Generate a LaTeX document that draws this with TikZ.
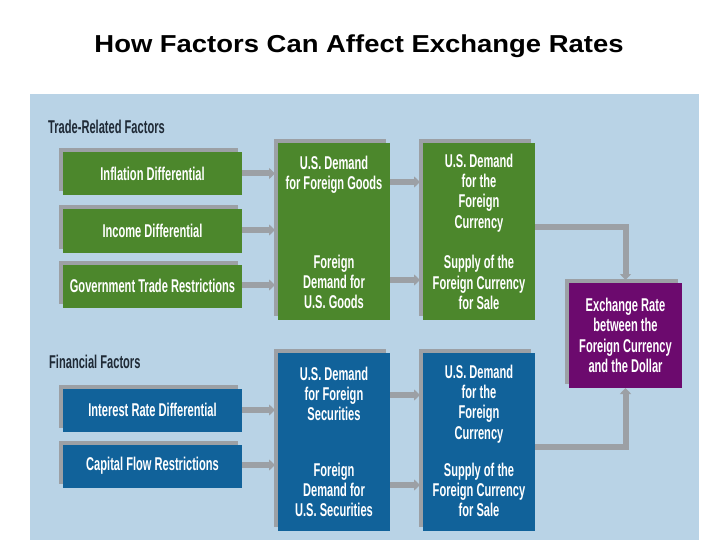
\documentclass[tikz,border=0pt]{standalone}
\usepackage{fontspec}
\setmainfont{Liberation Sans}
\newfontfamily\cond[FakeStretch=0.6]{Liberation Sans}
\newfontfamily\titlefont[FakeStretch=1.12]{Liberation Sans}
\usetikzlibrary{arrows.meta,shadows,calc}
\definecolor{bgblue}{HTML}{B9D3E6}
\definecolor{boxgreen}{HTML}{4C872C}
\definecolor{boxblue}{HTML}{11629A}
\definecolor{boxpurple}{HTML}{6C0A6E}
\definecolor{shadowgray}{HTML}{9CA0A5}
\definecolor{labeldark}{HTML}{1F2A36}
\tikzset{
  boxbase/.style={inner sep=0pt, outer sep=0pt, draw=none,
    general shadow={fill=shadowgray, shadow xshift=-4pt, shadow yshift=4pt}},
  factorbox/.style={boxbase, minimum width=179pt, minimum height=43pt},
  tallbox/.style={boxbase, minimum width=112pt, minimum height=177pt},
  txt/.style={text=white, align=center, inner sep=0pt,
    font=\cond\bfseries\fontsize{18.5}{20.3}\selectfont},
  grouplabel/.style={text=labeldark, anchor=west, inner sep=0pt,
    font=\cond\bfseries\fontsize{18.5}{20.3}\selectfont},
  arr/.style={draw=shadowgray, line width=6pt, line join=miter,
    -{Triangle[length=6pt,width=11pt]}, shorten >=3pt},
}
\begin{document}
\begin{tikzpicture}[x=1pt,y=-1pt]
\useasboundingbox (0,0) rectangle (720,540);
\fill[white] (0,0) rectangle (720,540);
\node (title) at (359,46) {\titlefont\bfseries\fontsize{24.5}{28}\selectfont How Factors Can Affect Exchange Rates};
\fill[bgblue] (30,94) rectangle (699,540);

% group labels
\node[grouplabel] (tradelbl) at (48,127) {Trade-Related Factors};
\node[grouplabel] (finlbl) at (49,362) {Financial Factors};

% trade factor boxes
\node[factorbox, fill=boxgreen] (infl) at (152.5,173.5) {};
\node[txt] at (infl) {Inflation Differential};
\node[factorbox, fill=boxgreen] (inc) at (152.5,231) {};
\node[txt] at (inc) {Income Differential};
\node[factorbox, fill=boxgreen] (gov) at (152.5,286) {};
\node[txt] at (gov) {Government Trade Restrictions};

% green tall boxes
\node[tallbox, fill=boxgreen] (g1) at (334,231.5) {};
\node[txt] (g1a) at (334,174.5) {U.S. Demand\\for Foreign Goods};
\node[txt] (g1b) at (334,282) {Foreign\\Demand for\\U.S. Goods};
\node[tallbox, fill=boxgreen] (g2) at (479,231.5) {};
\node[txt] (g2a) at (479,193) {U.S. Demand\\for the\\Foreign\\Currency};
\node[txt] (g2b) at (479,282.5) {Supply of the\\Foreign Currency\\for Sale};

% financial factor boxes
\node[factorbox, fill=boxblue] (intr) at (152.5,410) {};
\node[txt] at (intr) {Interest Rate Differential};
\node[factorbox, fill=boxblue] (capf) at (152.5,466) {};
\node[txt] at (capf) {Capital Flow Restrictions};

% blue tall boxes
\node[tallbox, fill=boxblue, minimum height=178pt] (b1) at (334,442) {};
\node[txt] (b1a) at (334,394) {U.S. Demand\\for Foreign\\Securities};
\node[txt] (b1b) at (334,490) {Foreign\\Demand for\\U.S. Securities};
\node[tallbox, fill=boxblue, minimum height=178pt] (b2) at (479,442) {};
\node[txt] (b2a) at (479,404) {U.S. Demand\\for the\\Foreign\\Currency};
\node[txt] (b2b) at (479,490) {Supply of the\\Foreign Currency\\for Sale};

% exchange rate box
\node[boxbase, fill=boxpurple, minimum width=113pt, minimum height=105pt] (pur) at (625.5,335.5) {};
\node[txt] at (pur) {Exchange Rate\\between the\\Foreign Currency\\and the Dollar};

% connector start points on the tall boxes
\coordinate (g1r1) at ($(g1.north east)+(0,39)$);
\coordinate (g1r2) at ($(g1.north east)+(0,137)$);
\coordinate (g2r) at ($(g2.north east)+(0,84)$);
\coordinate (b1r1) at ($(b1.north east)+(0,42)$);
\coordinate (b1r2) at ($(b1.north east)+(0,132)$);
\coordinate (b2r) at ($(b2.north east)+(0,94)$);

% arrows: trade
\draw[arr] (infl.east) -- (infl.east -| g1.west);
\draw[arr] ([yshift=1pt]inc.east) -- ([yshift=1pt]inc.east -| g1.west);
\draw[arr] ([yshift=1pt]gov.east) -- ([yshift=1pt]gov.east -| g1.west);
\draw[arr] (g1r1) -- (g1r1 -| g2.west);
\draw[arr] (g1r2) -- (g1r2 -| g2.west);
\draw[arr] (g2r) -| (pur.north);

% arrows: financial
\draw[arr] (intr.east) -- (intr.east -| b1.west);
\draw[arr] ([yshift=1pt]capf.east) -- ([yshift=1pt]capf.east -| b1.west);
\draw[arr] (b1r1) -- (b1r1 -| b2.west);
\draw[arr] (b1r2) -- (b1r2 -| b2.west);
\draw[arr, shorten >=0pt] (b2r) -| (pur.south);
\end{tikzpicture}
\end{document}
